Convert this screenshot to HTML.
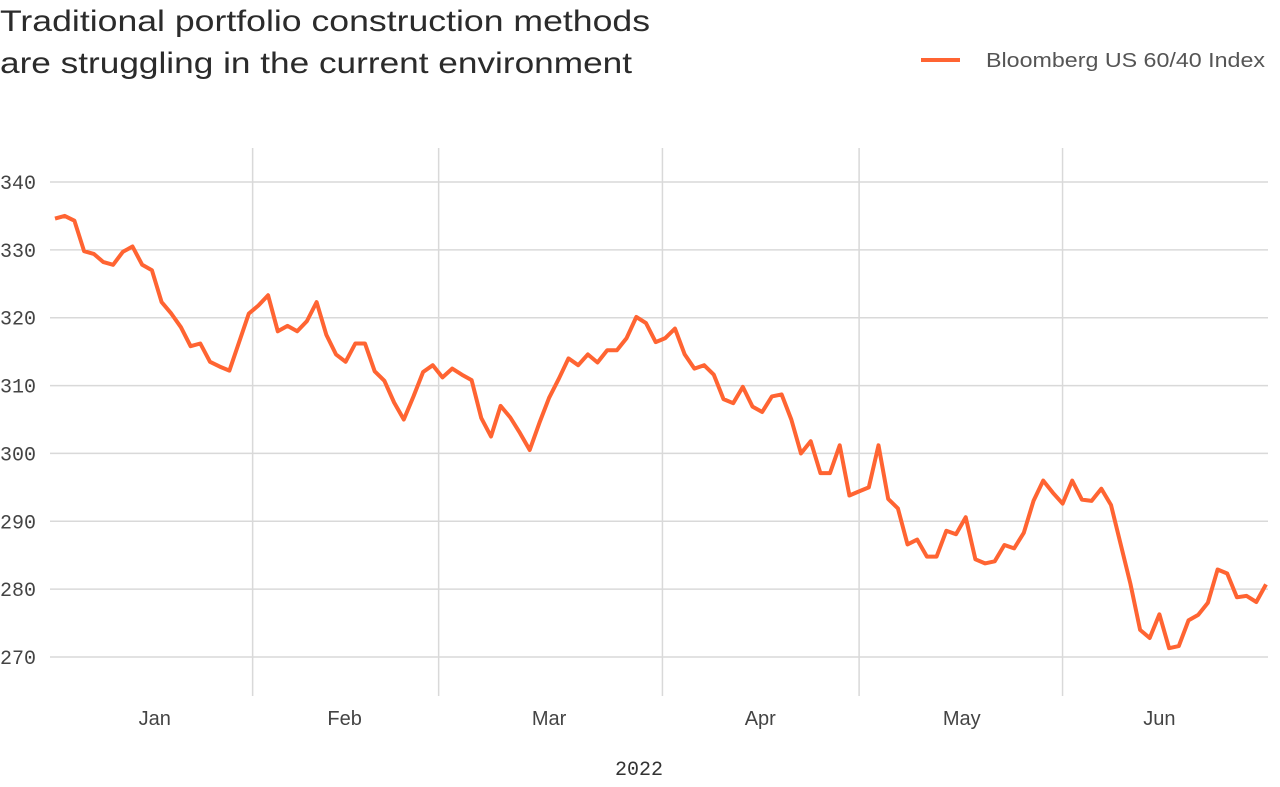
<!DOCTYPE html>
<html><head><meta charset="utf-8"><style>
body{margin:0;background:#fff;width:1280px;height:782px;overflow:hidden;font-family:"Liberation Sans",sans-serif;}
</style></head><body>
<svg width="1280" height="782" viewBox="0 0 1280 782">
<text font-size="30" fill="#2b2b2b"><tspan x="0" y="31" textLength="650" lengthAdjust="spacingAndGlyphs">Traditional portfolio construction methods</tspan><tspan x="0" y="73" textLength="632" lengthAdjust="spacingAndGlyphs">are struggling in the current environment</tspan></text>
<g>
<line x1="921" y1="60" x2="960" y2="60" stroke="#ff6432" stroke-width="4"/>
<text x="986" y="67" font-size="20" fill="#555" textLength="279" lengthAdjust="spacingAndGlyphs">Bloomberg US 60/40 Index</text>
</g>
<g id="grid"></g><g id="axes"></g><g id="series"></g>
<text x="639" y="775" font-size="20" fill="#333" text-anchor="middle" font-family="Liberation Mono, monospace">2022</text>
</svg>
<script>
const values=[334.6,335,334.3,329.8,329.4,328.2,327.8,329.7,330.5,327.8,327,322.3,320.6,318.6,315.8,316.2,313.5,312.8,312.2,316.4,320.6,321.8,323.3,318,318.8,318,319.5,322.3,317.5,314.6,313.5,316.2,316.2,312.1,310.7,307.5,305,308.4,312,313,311.2,312.5,311.6,310.8,305.2,302.5,307,305.3,303,300.5,304.5,308.2,311,314,313,314.6,313.4,315.2,315.2,317,320.1,319.2,316.4,317,318.4,314.6,312.5,313,311.6,308,307.4,309.8,306.9,306.1,308.4,308.7,305,300,301.8,297.1,297.1,301.2,293.8,294.4,295,301.2,293.3,291.9,286.6,287.3,284.8,284.8,288.6,288.1,290.6,284.4,283.8,284.1,286.5,286,288.3,293,296,294.2,292.6,296,293.2,293,294.8,292.4,286.6,280.8,274,272.8,276.3,271.3,271.6,275.4,276.2,278,282.9,282.3,278.8,279,278.1,280.7];
const yTicks=[270,280,290,300,310,320,330,340];
const monthLabels=["Jan","Feb","Mar","Apr","May","Jun"];
const monthCenters=[10.3,29.9,51,72.8,93.6,114];
const monthBounds=[20.4,39.6,62.7,83,104];
const NS="http://www.w3.org/2000/svg";
const x=i=>55+i*(1266-55)/(values.length-1);
const y=v=>182+(340-v)*(657-182)/70;
const grid=document.getElementById('grid'),axes=document.getElementById('axes'),series=document.getElementById('series');
function mk(tag,attrs,parent){const e=document.createElementNS(NS,tag);for(const k in attrs)e.setAttribute(k,attrs[k]);parent.appendChild(e);return e;}
yTicks.forEach(t=>{
 const l=mk('line',{x1:50,x2:1268,y1:y(t),y2:y(t),stroke:'#d9d9d9','stroke-width':1.5},grid);
 
 
 const tx=mk('text',{x:0,y:y(t)+7,'font-size':20,fill:'#444','font-family':'Liberation Mono, monospace'},axes);
 tx.textContent=t;
 
 
});
monthBounds.forEach(b=>{
 const l=mk('line',{x1:x(b),x2:x(b),y1:148,y2:696,stroke:'#d9d9d9','stroke-width':1.5},grid);
 
 
});
monthLabels.forEach((m,i)=>{
 const tx=mk('text',{x:x(monthCenters[i]),y:725,'font-size':20,fill:'#444','text-anchor':'middle'},axes);
 tx.textContent=m;
 
 
});
const p=mk('polyline',{points:values.map((v,i)=>x(i).toFixed(1)+','+y(v).toFixed(1)).join(' '),fill:'none',stroke:'#ff6432','stroke-width':4,'stroke-linejoin':'round'},series);


</script>
</body></html>
